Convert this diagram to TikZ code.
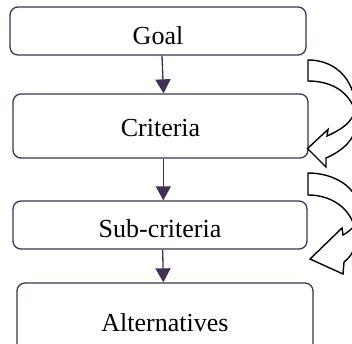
\documentclass[tikz,border=0pt]{standalone}
\usepackage{fontspec}
\setmainfont{Liberation Serif}
\usetikzlibrary{arrows.meta}
\definecolor{boxline}{RGB}{64,49,82}
\begin{document}
\begin{tikzpicture}[x=1pt,y=-1pt,
  box/.style={draw=boxline, line width=1.3pt, rounded corners=8pt, inner sep=0pt,
              font=\fontsize{26}{30}\selectfont, text depth=0pt},
  conn/.style={draw=boxline, line width=1.3pt, -{Triangle[width=15pt,length=14pt]}},
  curvedarrow/.style={draw=black, line width=1.4pt, fill=white, line join=miter}]
\useasboundingbox (0,0) rectangle (352,344);
\clip (0,0) rectangle (352,344);
\node[box, minimum width=296pt, minimum height=48pt, text height=28pt] (goal) at (158,31) {Goal};
\node[box, minimum width=295pt, minimum height=64pt, text height=21pt] (crit) at (160.5,126) {Criteria};
\node[box, minimum width=294pt, minimum height=48pt, text height=24pt] (sub) at (160,225) {Sub-criteria};
\node[box, minimum width=296pt, minimum height=77pt, text height=19pt] (alt) at (165,321.5) {Alternatives};
\draw[conn] ([xshift=4pt]goal.south) -- ([xshift=3pt]crit.north);
\draw[conn] ([xshift=2.8pt]crit.south) -- ([xshift=3.3pt]sub.north);
\draw[conn] ([xshift=2.7pt]sub.south) -- ([xshift=-1.7pt]alt.north);
% first curved arrow
\draw[curvedarrow] (308,60) .. controls (333,60) and (351,76) .. (355,101)
  .. controls (358,118) and (345,128) .. (327,136)
  -- (328,129.5) -- (307.5,148.5) -- (326,167) -- (326,158)
  .. controls (345,150) and (360,135) .. (356,115)
  .. controls (352,95) and (335,81) .. (308,81) -- cycle;
% second curved arrow
\draw[curvedarrow] (308,173) .. controls (335,173) and (358,188) .. (359,209)
  .. controls (360,222) and (352,230) .. (343,235)
  -- (342,228) -- (310,259) -- (343,274) -- (344,262)
  .. controls (352,256) and (357,246) .. (356,235)
  .. controls (354,212) and (335,195) .. (308,195) -- cycle;
\end{tikzpicture}
\end{document}
